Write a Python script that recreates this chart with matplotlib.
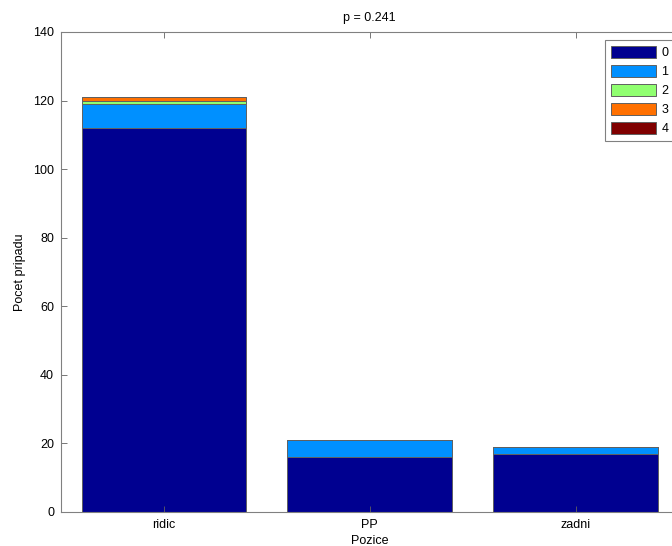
import matplotlib
matplotlib.use("Agg")
import matplotlib.pyplot as plt
import numpy as np

plt.rcParams['font.family'] = ['Liberation Sans', 'DejaVu Sans']

categories = ['ridic', 'PP', 'zadni']
levels = ['0', '1', '2', '3', '4']
counts = {
    '0': [112, 16, 17],
    '1': [7, 5, 2],
    '2': [1, 0, 0],
    '3': [1, 0, 0],
    '4': [0, 0, 0],
}
colors = ['#000090', '#0090ff', '#90ff70', '#ff7000', '#800000']
title = 'p = 0.241'

W, H = 672, 546
fig = plt.figure(figsize=(W / 100, H / 100), dpi=100)
ax = fig.add_axes([61 / W, 1 - 512 / H, (678.5 - 61) / W, (512 - 32) / H])

x = np.arange(1, len(categories) + 1)
bottom = np.zeros(len(categories))
for lev, col in zip(levels, colors):
    vals = np.array(counts[lev], dtype=float)
    ax.bar(x, vals, width=0.8, bottom=bottom, color=col,
           edgecolor='#606060', linewidth=0.7, label=lev)
    bottom += vals

ax.set_xlim(0.5, 3.5)
ax.set_ylim(0, 140)
ax.set_xticks(x)
ax.set_xticklabels(categories)
ax.set_yticks(np.arange(0, 141, 20))
ax.tick_params(direction='in', length=4, width=0.6, color='#606060',
               labelsize=9, top=True, right=True, pad=5)
for s in ax.spines.values():
    s.set_color('#808080')
    s.set_linewidth(0.8)

ax.set_xlabel('Pozice', fontsize=9, labelpad=3)
ax.set_ylabel('Pocet pripadu', fontsize=9, labelpad=5)
ax.set_title(title, fontsize=9, pad=8)

leg = ax.legend(loc='upper left', bbox_to_anchor=(605 / W, 1 - 40 / H),
                bbox_transform=fig.transFigure, fontsize=9, frameon=True,
                fancybox=False, handlelength=3.6, handleheight=1.1,
                handletextpad=0.4, labelspacing=0.45, borderpad=0.5,
                borderaxespad=0)
leg.get_frame().set_edgecolor('#606060')
leg.get_frame().set_linewidth(0.8)

fig.savefig('out.png', dpi=100)
